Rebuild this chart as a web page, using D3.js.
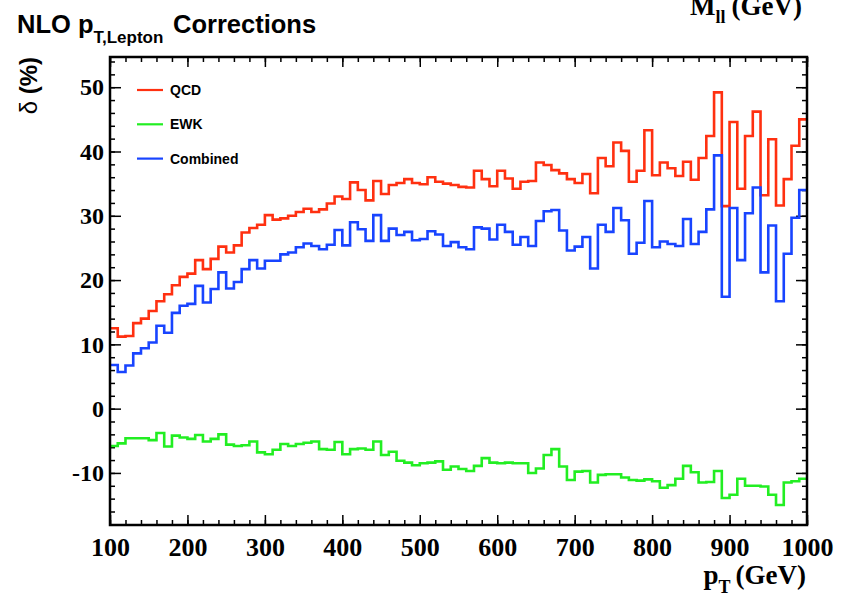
<!DOCTYPE html>
<html>
<head>
<meta charset="utf-8">
<script src="https://cdn.jsdelivr.net/npm/d3@7"></script>
<style>
  body { margin: 0; background: #fff; }
  svg { display: block; }
</style>
</head>
<body>
<div id="chart"></div>
<script>
// bin edges, 10 GeV bins from 100 to 1000
const binEdges = d3.range(100, 1001, 10)

const qcd = [12.5, 11.2, 11.3, 13.3, 14.0, 15.2, 16.7, 17.8, 19.2, 20.5, 21.0, 23.1, 21.7, 23.3, 25.2, 24.3, 25.4, 27.4, 28.1, 28.6, 30.1, 29.4,
  29.6, 30.0, 30.6, 31.1, 30.6, 31.0, 31.9, 33.0, 32.6, 35.2, 34.0, 32.4, 35.4, 33.4, 34.8, 35.1, 35.7, 35.1, 34.9, 36.0, 35.3, 35.0,
  34.8, 34.5, 34.4, 37.0, 35.7, 34.6, 37.0, 35.8, 34.2, 35.3, 35.4, 38.3, 37.9, 37.1, 36.6, 35.7, 35.1, 36.5, 33.5, 39.0, 37.7,
  41.4, 40.1, 35.3, 37.0, 43.3, 36.3, 38.3, 37.4, 36.2, 38.4, 35.6, 39.0, 42.4, 49.2, 31.5, 44.6, 34.2, 42.4, 46.2, 33.2, 41.9, 31.6, 35.7, 40.9, 45.0]

const ewk = [-5.8, -5.4, -4.6, -4.6, -4.6, -4.9, -3.8, -5.9, -4.2, -4.5, -4.7, -4.1, -5.1, -4.7, -4.0, -5.6, -5.8, -5.7, -5.1, -6.8, -7.1, -6.4,
  -5.5, -5.8, -5.5, -5.3, -5.1, -6.3, -6.4, -5.2, -7.1, -6.3, -6.2, -6.4, -5.1, -7.2, -6.7, -8.1, -8.4, -8.8, -8.5, -8.4, -8.2, -9.5, -9.0,
  -9.4, -9.7, -8.9, -7.7, -8.4, -8.5, -8.4, -8.5, -8.5, -10.0, -9.3, -7.2, -6.3, -9.0, -11.1, -9.8, -9.7, -11.5, -10.3, -10.2, -10.2,
  -10.7, -11.1, -11.2, -11.0, -11.3, -12.3, -11.9, -10.9, -8.9, -9.9, -11.5, -11.4, -9.7, -13.9, -13.4, -10.9, -12.0, -12.0, -12.1, -13.4, -15.0, -11.5, -11.3, -10.9]

const combined = [6.8, 5.7, 6.7, 8.6, 9.4, 10.3, 12.9, 11.8, 14.9, 16.0, 16.3, 19.1, 16.5, 18.6, 21.2, 18.7, 19.7, 21.7, 23.1, 21.8, 23.0, 23.0,
  24.0, 24.3, 25.1, 25.7, 25.3, 24.8, 25.5, 27.8, 25.4, 29.0, 27.9, 26.1, 30.1, 26.1, 28.0, 27.0, 27.5, 26.2, 26.4, 27.6, 27.1, 25.3,
  25.9, 25.1, 24.8, 28.2, 28.0, 26.3, 28.6, 27.5, 25.5, 26.7, 25.3, 29.2, 30.7, 30.9, 27.7, 24.6, 25.2, 26.7, 21.8, 28.6, 27.5,
  31.2, 29.3, 24.1, 25.8, 32.3, 25.1, 26.0, 25.6, 25.3, 29.5, 25.6, 27.5, 31.0, 39.4, 17.4, 31.2, 23.1, 30.4, 34.4, 21.2, 28.5, 16.7, 24.1, 29.7, 34.0]

const xMajor = d3.range(100, 1001, 100)
const xMinor = d3.range(100, 1001, 20)
const yMajor = [-10, 0, 10, 20, 30, 40, 50]
const yMinor = d3.range(-18, 55, 2)

const series = [
  { name: "QCD", values: qcd, color: "#ff3010" },
  { name: "EWK", values: ewk, color: "#22ee22" },
  { name: "Combined", values: combined, color: "#1844ff" }
]

const W = 843, H = 599
const frame = { left: 110, right: 807, top: 57, bottom: 525 }

const svg = d3.select("#chart").append("svg")
  .attr("width", W)
  .attr("height", H)

const x = d3.scaleLinear().domain([100, 1000]).range([frame.left, frame.right])
const y = d3.scaleLinear().domain([-18.1, 54.7]).range([frame.bottom, frame.top])

const serif = "'Liberation Serif', 'Times New Roman', serif"
const sans = "'Liberation Sans', Arial, Helvetica, sans-serif"

// ticks, all pointing inwards like ROOT (plain hyphen for negatives)
function addAxis(axis, tx, ty, size, ticks, labels) {
  const g = svg.append("g")
    .attr("transform", `translate(${tx},${ty})`)
    .call(axis.tickValues(ticks).tickSize(size).tickFormat(labels ? (d) => String(d) : ""))
  g.select(".domain").remove()
  g.selectAll("line").attr("stroke", "#000").attr("stroke-width", 1.5)
  return g
}

addAxis(d3.axisBottom(x), 0, frame.bottom, -5, xMinor, false)
addAxis(d3.axisTop(x), 0, frame.top, -5, xMinor, false)
addAxis(d3.axisTop(x), 0, frame.top, -10, xMajor, false)
const xAx = addAxis(d3.axisBottom(x).tickPadding(13), 0, frame.bottom, -10, xMajor, true)
xAx.selectAll("text")
  .attr("font-family", serif)
  .attr("font-weight", "bold")
  .attr("font-size", 26)
  .attr("fill", "#000")

addAxis(d3.axisLeft(y), frame.left, 0, -5, yMinor, false)
addAxis(d3.axisRight(y), frame.right, 0, -5, yMinor, false)
addAxis(d3.axisRight(y), frame.right, 0, -11, yMajor, false)
const yAx = addAxis(d3.axisLeft(y).tickPadding(6), frame.left, 0, -11, yMajor, true)
yAx.selectAll("text")
  .attr("font-family", serif)
  .attr("font-weight", "bold")
  .attr("font-size", 24)
  .attr("fill", "#000")

// histograms drawn as steps
const line = d3.line()
  .x((d) => x(d[0]))
  .y((d) => y(d[1]))
  .curve(d3.curveStepAfter)

series.forEach((s) => {
  const pts = s.values.map((v, i) => [binEdges[i], v])
  pts.push([binEdges[s.values.length], s.values[s.values.length - 1]])
  svg.append("path")
    .attr("d", line(pts))
    .attr("fill", "none")
    .attr("stroke", s.color)
    .attr("stroke-width", 2.6)
})

svg.append("rect")
  .attr("x", frame.left)
  .attr("y", frame.top)
  .attr("width", frame.right - frame.left)
  .attr("height", frame.bottom - frame.top)
  .attr("fill", "none")
  .attr("stroke", "#000")
  .attr("stroke-width", 2.5)

// legend
const legend = svg.append("g")
series.forEach((s, i) => {
  const ly = 90 + i * 34.3
  legend.append("line")
    .attr("x1", 137).attr("x2", 163)
    .attr("y1", ly).attr("y2", ly)
    .attr("stroke", s.color)
    .attr("stroke-width", 2.2)
  legend.append("text")
    .attr("x", 170)
    .attr("y", ly + 5)
    .attr("font-family", sans)
    .attr("font-weight", "bold")
    .attr("font-size", 14)
    .text(s.name)
})

// title
const title = svg.append("text")
  .attr("x", 17)
  .attr("y", 33)
  .attr("font-family", sans)
  .attr("font-weight", "bold")
  .attr("font-size", 25.5)
title.append("tspan").text("NLO p")
title.append("tspan").attr("dy", 10).attr("font-size", 17).text("T,Lepton")
title.append("tspan").attr("x", 173).attr("dy", -10).text("Corrections")

// top-right label (cut by the top edge as in the original)
const mll = svg.append("text")
  .attr("x", 690)
  .attr("y", 15)
  .attr("font-family", serif)
  .attr("font-weight", "bold")
  .attr("font-size", 27)
mll.append("tspan").text("M")
mll.append("tspan").attr("dy", 8).attr("font-size", 18).text("ll")
mll.append("tspan").attr("dy", -8).attr("dx", 6).text("(GeV)")

// axis titles
const xt = svg.append("text")
  .attr("x", 806)
  .attr("y", 584)
  .attr("text-anchor", "end")
  .attr("font-family", serif)
  .attr("font-weight", "bold")
  .attr("font-size", 27)
xt.append("tspan").text("p")
xt.append("tspan").attr("dy", 9).attr("font-size", 18).text("T")
xt.append("tspan").attr("dy", -9).attr("dx", 5).text("(GeV)")

const yt = svg.append("text")
  .attr("transform", "translate(37,57) rotate(-90)")
  .attr("text-anchor", "end")
  .attr("font-family", sans)
  .attr("font-weight", "bold")
  .attr("font-size", 24)
yt.append("tspan").attr("font-weight", "normal").text("δ")
yt.append("tspan").text(" (%)")
</script>
</body>
</html>
